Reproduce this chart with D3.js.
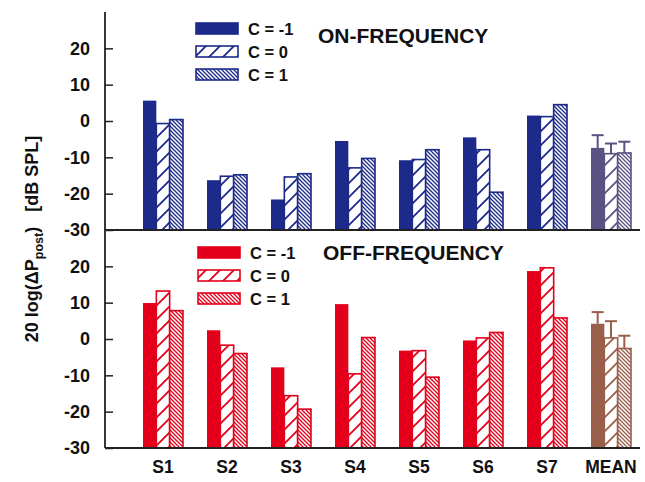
<!DOCTYPE html>
<html>
<head>
<meta charset="utf-8">
<script src="https://cdn.jsdelivr.net/npm/d3@7"></script>
<style>
  body { margin: 0; background: #fff; }
  text { font-family: "Liberation Sans", Arial, sans-serif; font-weight: bold; }
</style>
</head>
<body>
<div id="chart"></div>
<script>
// data
var categories = ["S1", "S2", "S3", "S4", "S5", "S6", "S7", "MEAN"];
var conditions = ["C = -1", "C = 0", "C = 1"];
var yTicks = [-30, -20, -10, 0, 10, 20];

var onCm1 = [5.6, -16.3, -21.6, -5.5, -10.8, -4.5, 1.5, -7.4];
var onC0  = [-0.7, -15.2, -15.4, -12.9, -10.6, -7.9, 1.2, -9.0];
var onC1  = [0.4, -14.8, -14.5, -10.3, -7.9, -19.6, 4.5, -8.8];
var onErr = [3.5, 2.8, 3.1];

var offCm1 = [9.9, 2.4, -7.8, 9.6, -3.2, -0.4, 18.7, 4.2];
var offC0  = [13.2, -1.7, -15.6, -9.6, -3.2, 0.3, 19.6, 0.3];
var offC1  = [7.8, -4.0, -19.3, 0.4, -10.5, 1.8, 5.8, -2.6];
var offErr = [3.2, 4.6, 3.5];

var blue = "#1c2a8a", red = "#e4001b", meanTop = "#5a5282", meanBot = "#9a5f4a";

var width = 645, height = 482;
var svg = d3.select("#chart").append("svg")
    .attr("width", width)
    .attr("height", height);

var defs = svg.append("defs");
function makePatterns(id, color) {
    var p0 = defs.append("pattern").attr("id", id + "-c0")
        .attr("patternUnits", "userSpaceOnUse").attr("width", 14).attr("height", 14);
    p0.append("rect").attr("width", 14).attr("height", 14).attr("fill", "#fff");
    p0.append("path").attr("d", "M0,14L14,0M-3,3L3,-3M11,17L17,11")
        .attr("stroke", color).attr("stroke-width", 1.8);
    var p1 = defs.append("pattern").attr("id", id + "-c1")
        .attr("patternUnits", "userSpaceOnUse").attr("width", 4).attr("height", 4);
    p1.append("rect").attr("width", 4).attr("height", 4).attr("fill", "#fff");
    p1.append("path").attr("d", "M0,0L4,4M-1,3L1,5M3,-1L5,1")
        .attr("stroke", color).attr("stroke-width", 1.3);
}
makePatterns("blue", blue);
makePatterns("red", red);
makePatterns("mtop", meanTop);
makePatterns("mbot", meanBot);

var axisX = 105, axisRight = 640;
var x = d3.scaleBand().domain(categories).range([131, 643]).paddingInner(0.375).paddingOuter(0.1875);
var xs = d3.scaleBand().domain([0, 1, 2]).range([0, x.bandwidth()]);

var panels = [
    {top: 12, bottom: 230, series: [onCm1, onC0, onC1], err: onErr, id: "blue", color: blue,
     meanId: "mtop", meanColor: meanTop, title: "ON-FREQUENCY", legendY: 23, titleX: 318, titleY: 43, legX: 196},
    {top: 230, bottom: 448, series: [offCm1, offC0, offC1], err: offErr, id: "red", color: red,
     meanId: "mbot", meanColor: meanBot, title: "OFF-FREQUENCY", legendY: 247, titleX: 323, titleY: 260, legX: 198}
];

function fillFor(k, id, color) {
    if (k === 0) return color;
    return "url(#" + id + "-c" + (k - 1) + ")";
}

panels.forEach(function(p) {
    var y = d3.scaleLinear().domain([-30, 30]).range([p.bottom, p.top]);
    var g = svg.append("g");

    p.series.forEach(function(vals, k) {
        g.selectAll(".bar" + k).data(vals).enter().append("rect")
            .attr("x", function(d, i) { return x(categories[i]) + xs(k); })
            .attr("y", function(d) { return y(d); })
            .attr("width", xs.bandwidth())
            .attr("height", function(d) { return y(-30) - y(d); })
            .attr("fill", function(d, i) {
                var mean = categories[i] === "MEAN";
                return fillFor(k, mean ? p.meanId : p.id, mean ? p.meanColor : p.color);
            })
            .attr("stroke", function(d, i) { return categories[i] === "MEAN" ? p.meanColor : p.color; })
            .attr("stroke-width", k === 0 ? 0 : 1.6);
    });

    // error bars on the mean group
    var mi = categories.length - 1;
    p.err.forEach(function(e, k) {
        var v = p.series[k][mi];
        var cx = x("MEAN") + xs(k) + xs.bandwidth() / 2;
        g.append("line").attr("x1", cx).attr("x2", cx)
            .attr("y1", y(v)).attr("y2", y(v + e))
            .attr("stroke", p.meanColor).attr("stroke-width", 2);
        g.append("line").attr("x1", cx - 6).attr("x2", cx + 6)
            .attr("y1", y(v + e)).attr("y2", y(v + e))
            .attr("stroke", p.meanColor).attr("stroke-width", 2);
    });

    // y axis
    var ax = g.append("g").attr("transform", "translate(" + axisX + ",0)")
        .call(d3.axisRight(y).tickValues(yTicks).tickSize(8).tickFormat(function(d) { return String(d); }));
    ax.select(".domain").remove();
    ax.selectAll(".tick line").attr("stroke", "#222").attr("stroke-width", 1.5);
    ax.selectAll(".tick text").attr("x", -15).attr("text-anchor", "end")
        .style("font-size", "18px").attr("fill", "#111");

    g.append("line").attr("x1", axisX).attr("x2", axisRight)
        .attr("y1", p.bottom).attr("y2", p.bottom)
        .attr("stroke", "#222").attr("stroke-width", 1.8);

    // legend
    conditions.forEach(function(c, k) {
        var ly = p.legendY + k * 23;
        g.append("rect").attr("x", p.legX).attr("y", ly)
            .attr("width", 42).attr("height", 11)
            .attr("fill", fillFor(k, p.id, p.color))
            .attr("stroke", p.color).attr("stroke-width", 1.6);
        g.append("text").attr("x", p.legX + 52).attr("y", ly + 12)
            .style("font-size", "16.5px").attr("fill", "#111").text(c);
    });
    g.append("text").attr("x", p.titleX).attr("y", p.titleY)
        .style("font-size", "21px").attr("fill", "#111").text(p.title);
});

svg.append("line").attr("x1", axisX).attr("x2", axisX)
    .attr("y1", 12).attr("y2", 448)
    .attr("stroke", "#222").attr("stroke-width", 1.8);

// x labels
svg.append("g").selectAll("text").data(categories).enter().append("text")
    .attr("x", function(d) { return x(d) + x.bandwidth() / 2; })
    .attr("y", 473)
    .attr("text-anchor", "middle")
    .style("font-size", "17.5px").attr("fill", "#111")
    .text(function(d) { return d; });

// y axis title
var yl = svg.append("text")
    .attr("transform", "translate(38,239) rotate(-90)")
    .attr("text-anchor", "middle")
    .style("font-size", "18px").attr("fill", "#111");
yl.append("tspan").text("20 log(\u0394P");
yl.append("tspan").attr("dy", 5).style("font-size", "12.5px").text("post");
yl.append("tspan").attr("dy", -5).text(")\u00a0\u00a0\u00a0[dB SPL]");
</script>
</body>
</html>
